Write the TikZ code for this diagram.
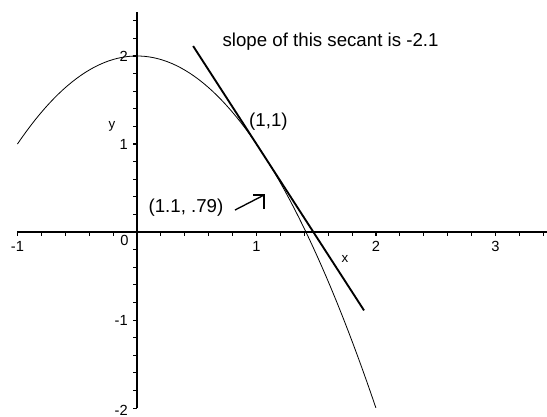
\documentclass[tikz,border=0pt]{standalone}
\usepackage{fontspec}
\setmainfont{Liberation Sans}

\begin{document}
\begin{tikzpicture}[x=89.6pt, y=66pt, font=\fontsize{14}{16}\selectfont]
    % 画布大小
    \useasboundingbox (-1.146,-2.091) rectangle (3.431,2.636);

    % 坐标轴
    \draw[line width=1.1pt] (-1,0) -- (3.43,0);
    \draw[line width=1.1pt] (0,-2) -- (0,2.5);

    % 刻度 (每 0.2 一个)
    \foreach \i in {0,...,22} {
        \draw[line width=0.8pt] ({-1+0.2*\i},0) -- ++(0,-3pt);
        \draw[line width=0.8pt] (0,{-2+0.2*\i}) -- ++(-3pt,0);
    }

    % 刻度标签
    \foreach \k in {-1,1,2,3} {
        \node[font=\fontsize{11}{13}\selectfont] (xt\k) at (\k,-0.16) {\k};
    }
    \node[font=\fontsize{11}{13}\selectfont] (xt0) at (-0.105,-0.09) {0};
    \foreach \k in {2,1,-1} {
        \node[font=\fontsize{11}{13}\selectfont, anchor=east, inner xsep=0pt] (yt\k) at (-0.075,\k) {\k};
    }
    \node[font=\fontsize{11}{13}\selectfont, anchor=east, inner xsep=0pt] (yt-2) at (-0.075,-2.02) {-2};

    % 轴名
    \node[font=\fontsize{10}{12}\selectfont] (ylbl) at (-0.21,1.2) {y};
    \node[font=\fontsize{10}{12}\selectfont] (xlbl) at (1.74,-0.31) {x};

    % 曲线 y = 2 - x^2
    \draw[line width=0.6pt] plot[domain=-1:2, samples=80] (\x, {2-\x*\x});

    % 割线
    \coordinate (sa) at (0.47,2.113);
    \coordinate (sb) at (1.9,-0.89);
    \draw[line width=1.4pt] (sa) -- (sb);

    % 文字标注
    \node (slopelbl) at (1.62,2.16) {slope of this secant is -2.1};
    \node (pt1) at (1.1,1.25) {(1,1)};
    \node (pt2) at (0.41,0.28) {(1.1, .79)};

    % 小箭头
    \coordinate (atail) at (0.82,0.25);
    \coordinate (atip) at (1.063,0.42);
    \draw[line width=1pt] (atail) -- (atip);
    \draw[line width=1pt] ([xshift=-8pt]atip) -- (atip) -- ([yshift=-10.5pt]atip);

\end{tikzpicture}
\end{document}
